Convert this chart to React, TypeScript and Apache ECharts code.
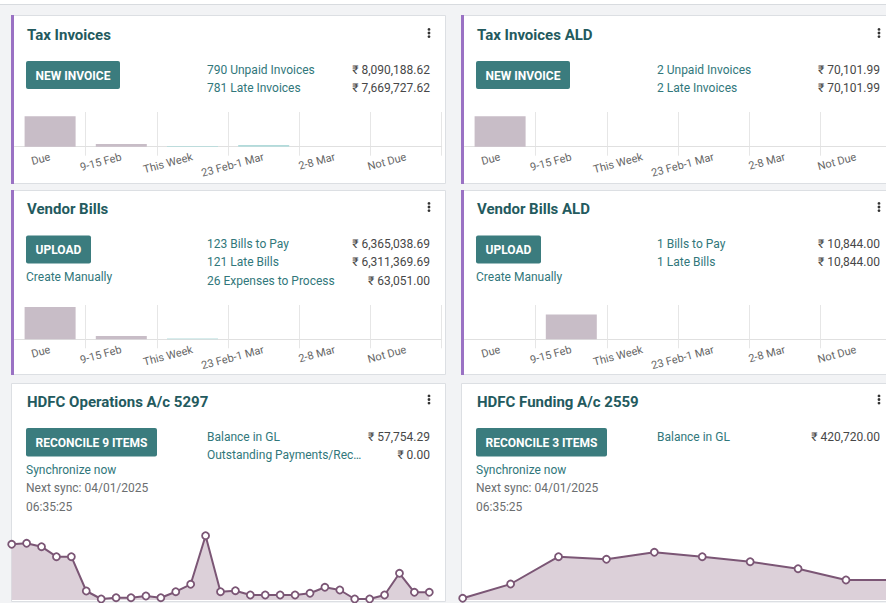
import React, { useEffect, useRef } from 'react';
import * as echarts from 'echarts';

// ---------- data ----------
const agingCategories = ['Due', '9-15 Feb', 'This Week', '23 Feb-1 Mar', '2-8 Mar', 'Not Due'];
const taxInvoicesAging = [7880000, 700000, 200000, 440000, 0, 0];
const taxInvoicesAldAging = [70102, 0, 0, 0, 0, 0];
const vendorBillsAging = [6590000, 673000, 140000, 0, 0, 0];
const vendorBillsAldAging = [0, 10844, 0, 0, 0, 0];
const agingAxisMax = [9000000, 80000, 7000000, 15000];

const opsDates = [
  '06 Dec', '07 Dec', '08 Dec', '09 Dec', '10 Dec', '11 Dec', '12 Dec', '13 Dec', '14 Dec', '15 Dec',
  '16 Dec', '17 Dec', '18 Dec', '19 Dec', '20 Dec', '21 Dec', '22 Dec', '23 Dec', '24 Dec', '25 Dec',
  '26 Dec', '27 Dec', '28 Dec', '29 Dec', '30 Dec', '31 Dec', '01 Jan', '02 Jan', '03 Jan',
];
const opsBalance = [
  249800, 253800, 240200, 200200, 200200, 63000, 31000, 36200, 36200, 43000,
  36200, 60200, 89800, 284200, 60200, 64200, 47000, 47000, 47000, 47000,
  53800, 77800, 67000, 31000, 31000, 47000, 133800, 57754, 57754,
];
const opsAxisRange = [27000, 347000];

const fundingDates = ['01 Nov', '08 Nov', '15 Nov', '22 Nov', '29 Nov', '06 Dec', '13 Dec', '20 Dec', '27 Dec', '03 Jan'];
const fundingBalance = [329200, 400700, 537200, 524200, 559200, 537200, 512200, 477200, 420720, 420720];
const fundingAxisRange = [320720, 720720];

// ---------- styles ----------
const FONT = 'Roboto, "Noto Sans", "DejaVu Sans", sans-serif';
const TITLE = '#235a5e';
const LINK = '#31777b';
const AMOUNT = '#474747';
const MUTED = '#6b6e70';
const BTN = '#3b7c7e';
const PURPLE = '#9a72c4';
const PAST = '#c8bdc7';
const FUTURE = '#b2dbdb';
const LINE = '#7b5675';
const AREA = '#dcd0d9';
const GRIDLINE = '#e6e6e6';

function txt(x: number, y: number, s: string, font: string, fill: string, align = 'left') {
  return {
    type: 'text', x, y, z: 10, silent: true,
    style: { text: s, font, fill, align, verticalAlign: 'middle', textAlign: align, textVerticalAlign: 'middle' },
  };
}
function card(x: number, y: number, h: number, accent: boolean) {
  const els: any[] = [
    { type: 'rect', z: -5, silent: true, shape: { x: x + 0.5, y: y + 0.5, width: 434, height: h }, style: { fill: '#fff', stroke: '#dcdfe3', lineWidth: 1 } },
  ];
  if (accent) els.push({ type: 'rect', z: 30, silent: true, shape: { x, y, width: 3, height: h + 1 }, style: { fill: PURPLE } });
  return els;
}
function button(x: number, y: number, w: number, h: number, label: string) {
  return [
    { type: 'rect', z: 8, silent: true, shape: { x, y, width: w, height: h, r: 2 }, style: { fill: BTN } },
    txt(x + w / 2, y + h / 2 + 0.5, label, `bold 12px ${FONT}`, '#ffffff', 'center'),
  ];
}
function dots(x: number, y: number) {
  return [-3.6, 0, 3.6].map((d) => ({ type: 'circle', z: 10, silent: true, shape: { cx: x, cy: y + d, r: 1.4 }, style: { fill: '#333' } }));
}
const titleFont = `bold 15px ${FONT}`;
const statFont = `12px ${FONT}`;

function buildGraphics() {
  const g: any[] = [];
  g.push({ type: 'rect', z: -6, silent: true, shape: { x: 0, y: 0, width: 886, height: 4 }, style: { fill: '#fff' } });
  g.push({ type: 'line', z: -6, silent: true, shape: { x1: 0, y1: 4.5, x2: 886, y2: 4.5 }, style: { stroke: '#d8dbdf', lineWidth: 1 } });

  g.push(...card(11, 15, 168, true), ...card(461, 15, 168, true));
  g.push(...card(11, 190, 184, true), ...card(461, 190, 184, true));
  g.push(...card(11, 383, 218, false), ...card(461, 383, 218, false));

  // Tax Invoices
  g.push(txt(27, 35, 'Tax Invoices', titleFont, TITLE), ...dots(429, 33));
  g.push(...button(26, 61, 94, 28, 'NEW INVOICE'));
  g.push(txt(207, 70, '790 Unpaid Invoices', statFont, LINK), txt(430, 70, '₹ 8,090,188.62', statFont, AMOUNT, 'right'));
  g.push(txt(207, 88, '781 Late Invoices', statFont, LINK), txt(430, 88, '₹ 7,669,727.62', statFont, AMOUNT, 'right'));

  // Tax Invoices ALD
  g.push(txt(477, 35, 'Tax Invoices ALD', titleFont, TITLE), ...dots(879, 33));
  g.push(...button(476, 61, 94, 28, 'NEW INVOICE'));
  g.push(txt(657, 70, '2 Unpaid Invoices', statFont, LINK), txt(880, 70, '₹ 70,101.99', statFont, AMOUNT, 'right'));
  g.push(txt(657, 88, '2 Late Invoices', statFont, LINK), txt(880, 88, '₹ 70,101.99', statFont, AMOUNT, 'right'));

  // Vendor Bills
  g.push(txt(27, 209, 'Vendor Bills', titleFont, TITLE), ...dots(429, 207));
  g.push(...button(26, 235.5, 65, 28, 'UPLOAD'));
  g.push(txt(26, 277, 'Create Manually', statFont, LINK));
  g.push(txt(207, 244.3, '123 Bills to Pay', statFont, LINK), txt(430, 244.3, '₹ 6,365,038.69', statFont, AMOUNT, 'right'));
  g.push(txt(207, 262.3, '121 Late Bills', statFont, LINK), txt(430, 262.3, '₹ 6,311,369.69', statFont, AMOUNT, 'right'));
  g.push(txt(207, 280.7, '26 Expenses to Process', statFont, LINK), txt(430, 280.7, '₹ 63,051.00', statFont, AMOUNT, 'right'));

  // Vendor Bills ALD
  g.push(txt(477, 209, 'Vendor Bills ALD', titleFont, TITLE), ...dots(879, 207));
  g.push(...button(476, 235.5, 65, 28, 'UPLOAD'));
  g.push(txt(476, 277, 'Create Manually', statFont, LINK));
  g.push(txt(657, 244.3, '1 Bills to Pay', statFont, LINK), txt(880, 244.3, '₹ 10,844.00', statFont, AMOUNT, 'right'));
  g.push(txt(657, 262.3, '1 Late Bills', statFont, LINK), txt(880, 262.3, '₹ 10,844.00', statFont, AMOUNT, 'right'));

  // HDFC Operations
  g.push(txt(27, 402.3, 'HDFC Operations A/c 5297', titleFont, TITLE), ...dots(429, 399.5));
  g.push(...button(26, 428, 131, 28.5, 'RECONCILE 9 ITEMS'));
  g.push(txt(26, 470, 'Synchronize now', statFont, LINK));
  g.push(txt(26, 488.3, 'Next sync: 04/01/2025', statFont, MUTED));
  g.push(txt(26, 506.7, '06:35:25', statFont, MUTED));
  g.push(txt(207, 437.3, 'Balance in GL', statFont, LINK), txt(430, 437.3, '₹ 57,754.29', statFont, AMOUNT, 'right'));
  g.push(txt(207, 455, 'Outstanding Payments/Rec…', statFont, LINK), txt(430, 455, '₹ 0.00', statFont, AMOUNT, 'right'));

  // HDFC Funding
  g.push(txt(477, 402.3, 'HDFC Funding A/c 2559', titleFont, TITLE), ...dots(879, 399.5));
  g.push(...button(476, 428, 131, 28.5, 'RECONCILE 3 ITEMS'));
  g.push(txt(476, 470, 'Synchronize now', statFont, LINK));
  g.push(txt(476, 488.3, 'Next sync: 04/01/2025', statFont, MUTED));
  g.push(txt(476, 506.7, '06:35:25', statFont, MUTED));
  g.push(txt(657, 437.3, 'Balance in GL', statFont, LINK), txt(880, 437.3, '₹ 420,720.00', statFont, AMOUNT, 'right'));
  return g;
}

const barGrids = [
  { left: 14.5, top: 112, width: 427.2, height: 34.7 },
  { left: 464.5, top: 112, width: 427.2, height: 34.7 },
  { left: 14.5, top: 305, width: 427.2, height: 34.3 },
  { left: 464.5, top: 305, width: 427.2, height: 34.3 },
];
const lineGrids = [
  { left: 11.7, top: 520, width: 417.6, height: 80 },
  { left: 462.7, top: 520, width: 431.2, height: 80 },
];

function buildOption(): any {
  const agingSeries = [taxInvoicesAging, taxInvoicesAldAging, vendorBillsAging, vendorBillsAldAging];
  const grid: any[] = [...barGrids, ...lineGrids].map((g) => ({ ...g, containLabel: false, outerBoundsMode: 'none', show: false }));
  const xAxis: any[] = [];
  const yAxis: any[] = [];
  const series: any[] = [];
  agingSeries.forEach((data, i) => {
    xAxis.push({
      type: 'category', gridIndex: i, data: agingCategories, boundaryGap: true,
      axisLine: { show: true, lineStyle: { color: '#e0e0e0', width: 1 } },
      axisTick: { show: true, length: 9, interval: (idx: number) => idx !== 0, lineStyle: { color: GRIDLINE } },
      splitLine: { show: true, interval: (idx: number) => idx !== 0, lineStyle: { color: GRIDLINE, width: 1 } },
      axisLabel: { show: true, interval: 0, rotate: 15, margin: 10, color: '#666', fontSize: 11, fontFamily: FONT, hideOverlap: false },
    });
    yAxis.push({ type: 'value', gridIndex: i, min: 0, max: agingAxisMax[i], show: false, splitLine: { show: false } });
    series.push({
      type: 'bar', xAxisIndex: i, yAxisIndex: i, data, barWidth: 51, silent: true,
      itemStyle: { color: (p: any) => (p.dataIndex < 2 ? PAST : FUTURE) },
    });
  });
  const lines = [
    { dates: opsDates, values: opsBalance, range: opsAxisRange },
    { dates: fundingDates, values: fundingBalance, range: fundingAxisRange },
  ];
  lines.forEach((l, j) => {
    const idx = 4 + j;
    xAxis.push({ type: 'category', gridIndex: idx, data: l.dates, boundaryGap: false, show: false });
    yAxis.push({ type: 'value', gridIndex: idx, min: l.range[0], max: l.range[1], show: false, splitLine: { show: false } });
    series.push({
      type: 'line', xAxisIndex: idx, yAxisIndex: idx, data: l.values, silent: true,
      symbol: 'circle', symbolSize: 7, showSymbol: true, showAllSymbol: true,
      lineStyle: { color: LINE, width: 2 },
      itemStyle: { color: '#ffffff', borderColor: LINE, borderWidth: 1.8 },
      areaStyle: { color: AREA, origin: 'start', opacity: 1 },
      z: 3,
    });
  });
  return {
    animation: false,
    backgroundColor: '#f2f3f5',
    tooltip: { show: false },
    graphic: { elements: buildGraphics() },
    grid, xAxis, yAxis, series,
  };
}

export default function App() {
  const ref = useRef<HTMLDivElement>(null);
  useEffect(() => {
    if (!ref.current) return;
    const chart = echarts.init(ref.current, undefined, { renderer: 'svg' });
    chart.setOption(buildOption());
    return () => chart.dispose();
  }, []);
  return (
    <div style={{ position: 'fixed', left: 0, top: 0, width: 886, height: 603, overflow: 'hidden', background: '#f2f3f5' }}>
      <div ref={ref} style={{ width: 886, height: 603 }} />
    </div>
  );
}
